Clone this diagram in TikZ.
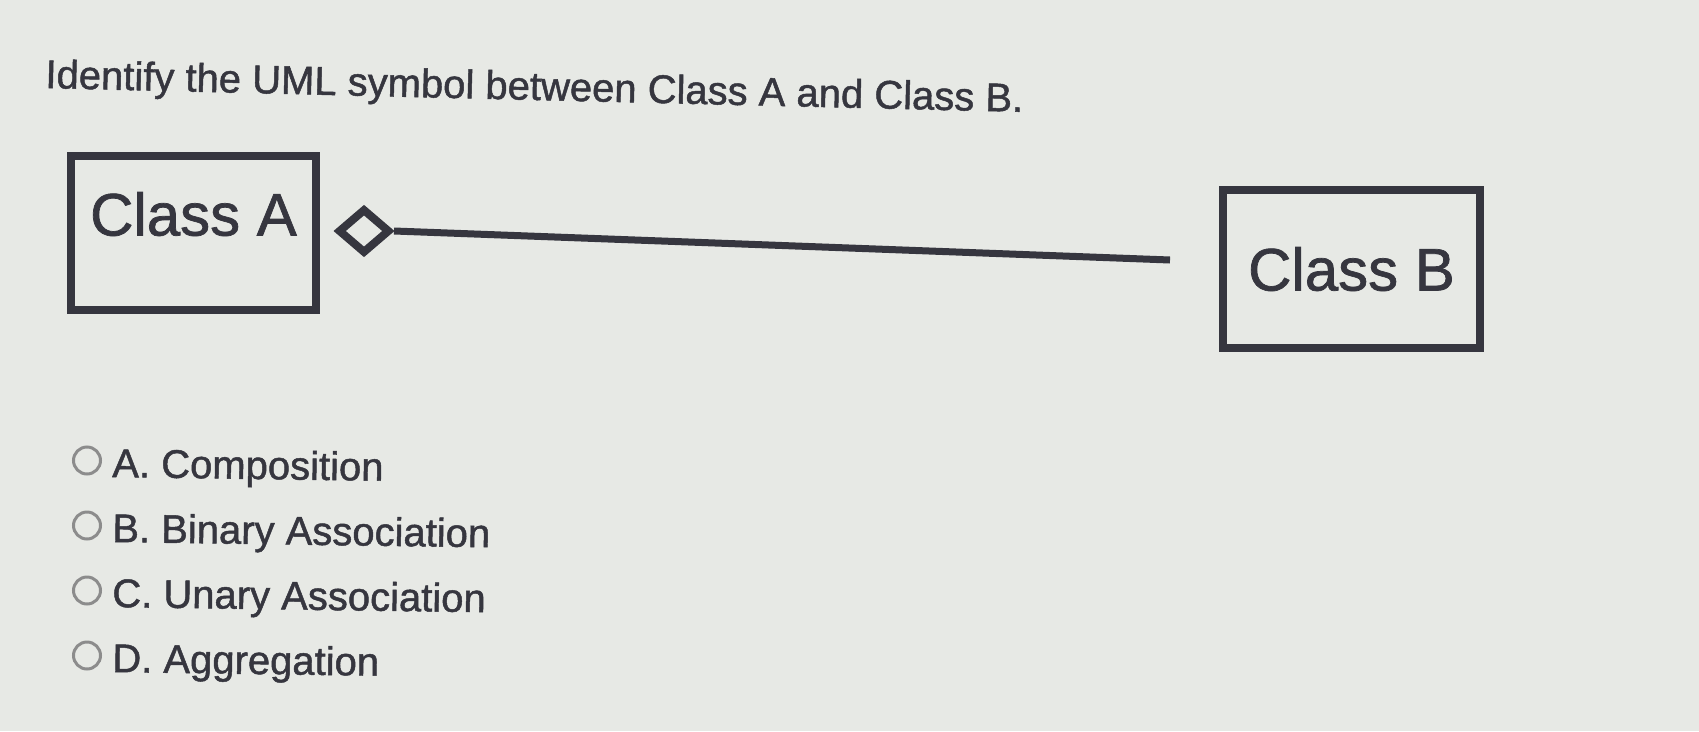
\documentclass[tikz,border=0pt]{standalone}
\usepackage{fontspec}
\setmainfont{Liberation Sans}[BoldFont=Liberation Sans, BoldFeatures={FakeBold=1.2}]
\usetikzlibrary{shapes.geometric}
\definecolor{bg}{HTML}{E7E9E5}
\definecolor{ink}{HTML}{36363F}
\definecolor{ring}{HTML}{8C8C8C}
\begin{document}
\begin{tikzpicture}[x=1pt,y=-1pt,
  classbox/.style={draw=ink, line width=8pt, rectangle, inner sep=0pt,
    font=\fontsize{60}{72}\selectfont\bfseries, text=ink},
  diam/.style={diamond, draw=ink, line width=8pt, inner sep=0pt,
    minimum width=52pt, minimum height=45pt},
  link/.style={draw=ink, line width=7pt},
  radio/.style={circle, draw=ring, line width=3pt, minimum size=27pt, inner sep=0pt},
  opt/.style={anchor=base west, font=\fontsize{40}{48}\selectfont\bfseries, text=ink, inner sep=0pt, rotate=-0.8},
  title/.style={anchor=base west, font=\fontsize{40}{48}\selectfont\bfseries, text=ink, inner sep=0pt, rotate=-1.4}]
\fill[bg] (0,0) rectangle (1699,731);
\useasboundingbox (0,0) rectangle (1699,731);

\node[title] (q) at (45,88) {Identify the UML symbol between Class A and Class B.};

\node[classbox, minimum width=245pt, minimum height=154pt, text height=43pt, text depth=38pt] (A) at (193.5,233) {Class A};
\node[classbox, minimum width=257pt, minimum height=158pt, text height=43pt, text depth=0pt] (B) at (1351.5,269) {Class B};

\node[diam] (D) at (364,231) {};
\coordinate (lend) at (1170,260);
\draw[link] (D.east) -- (lend);

\node[radio] (ra) at (87,460.5) {};
\node[radio] (rb) at (87,525.5) {};
\node[radio] (rc) at (87,590.5) {};
\node[radio] (rd) at (87,655.5) {};
\node[opt] (ta) at (112,477) {A. Composition};
\node[opt] (tb) at (112,542) {B. Binary Association};
\node[opt] (tc) at (112,607) {C. Unary Association};
\node[opt] (td) at (112,672) {D. Aggregation};
\end{tikzpicture}
\end{document}
